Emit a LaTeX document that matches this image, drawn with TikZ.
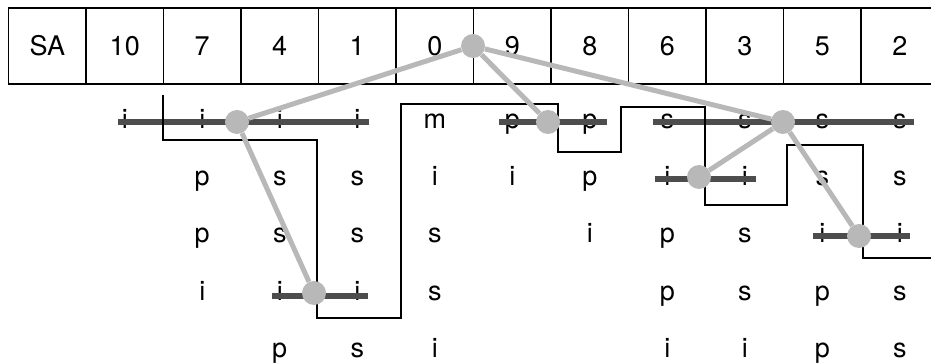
\documentclass[tikz,border=0pt]{standalone}
\usepackage{fontspec}
\setmainfont{TeX Gyre Heros}
\usepackage{tikz}
\usetikzlibrary{positioning}
\pgfdeclarelayer{fg}
\pgfsetlayers{main,fg}
\usepackage{xcolor}
\definecolor{treegray}{HTML}{B8B8B8}
\definecolor{cutgray}{HTML}{4D4D4D}

\begin{document}
\begin{tikzpicture}[
  x=1pt, y=-1pt,
  node distance=43pt,
  font=\fontsize{27}{32}\selectfont,
  cell/.style={draw, line width=1.3pt, minimum width=77.5pt, minimum height=76pt, inner sep=0pt, outer sep=0pt},
  ch/.style={inner sep=0pt, outer sep=0pt, text height=14pt, text depth=0pt},
  cut/.style={line width=6pt, cutgray},
  lcp/.style={line width=2pt, black},
  branch/.style={circle, fill=treegray, inner sep=0pt, minimum size=24pt},
  link/.style={line width=5pt, treegray}
]
\useasboundingbox (0,0) rectangle (931,363);
\clip (0,0) rectangle (931,363);

% suffix array row
\node[cell] at (47.25,46) (sa) {SA};
\node[cell, right=0pt of sa] (n10) {10};
\node[cell, right=0pt of n10] (n7) {7};
\node[cell, right=0pt of n7] (n4) {4};
\node[cell, right=0pt of n4] (n1) {1};
\node[cell, right=0pt of n1] (n0) {0};
\node[cell, right=0pt of n0] (n9) {9};
\node[cell, right=0pt of n9] (n8) {8};
\node[cell, right=0pt of n8] (n6) {6};
\node[cell, right=0pt of n6] (n3) {3};
\node[cell, right=0pt of n3] (n5) {5};
\node[cell, right=0pt of n5] (n2) {2};

% suffixes, one column per entry
\node[ch, below=31pt of n10] (s10-1) {i};

\node[ch, below=31pt of n7] (s7-1) {i};
\node[ch, below=of s7-1] (s7-2) {p};
\node[ch, below=of s7-2] (s7-3) {p};
\node[ch, below=of s7-3] (s7-4) {i};

\node[ch, below=31pt of n4] (s4-1) {i};
\node[ch, below=of s4-1] (s4-2) {s};
\node[ch, below=of s4-2] (s4-3) {s};
\node[ch, below=of s4-3] (s4-4) {i};
\node[ch, below=of s4-4] (s4-5) {p};

\node[ch, below=31pt of n1] (s1-1) {i};
\node[ch, below=of s1-1] (s1-2) {s};
\node[ch, below=of s1-2] (s1-3) {s};
\node[ch, below=of s1-3] (s1-4) {i};
\node[ch, below=of s1-4] (s1-5) {s};

\node[ch, below=31pt of n0] (s0-1) {m};
\node[ch, below=of s0-1] (s0-2) {i};
\node[ch, below=of s0-2] (s0-3) {s};
\node[ch, below=of s0-3] (s0-4) {s};
\node[ch, below=of s0-4] (s0-5) {i};

\node[ch, below=31pt of n9] (s9-1) {p};
\node[ch, below=of s9-1] (s9-2) {i};

\node[ch, below=31pt of n8] (s8-1) {p};
\node[ch, below=of s8-1] (s8-2) {p};
\node[ch, below=of s8-2] (s8-3) {i};

\node[ch, below=31pt of n6] (s6-1) {s};
\node[ch, below=of s6-1] (s6-2) {i};
\node[ch, below=of s6-2] (s6-3) {p};
\node[ch, below=of s6-3] (s6-4) {p};
\node[ch, below=of s6-4] (s6-5) {i};

\node[ch, below=31pt of n3] (s3-1) {s};
\node[ch, below=of s3-1] (s3-2) {i};
\node[ch, below=of s3-2] (s3-3) {s};
\node[ch, below=of s3-3] (s3-4) {s};
\node[ch, below=of s3-4] (s3-5) {i};

\node[ch, below=31pt of n5] (s5-1) {s};
\node[ch, below=of s5-1] (s5-2) {s};
\node[ch, below=of s5-2] (s5-3) {i};
\node[ch, below=of s5-3] (s5-4) {p};
\node[ch, below=of s5-4] (s5-5) {p};

\node[ch, below=31pt of n2] (s2-1) {s};
\node[ch, below=of s2-1] (s2-2) {s};
\node[ch, below=of s2-2] (s2-3) {i};
\node[ch, below=of s2-3] (s2-4) {s};
\node[ch, below=of s2-4] (s2-5) {s};

% shared characters crossed out
\draw[cut] ([xshift=-7pt]s10-1.center) -- ([xshift=12pt]s1-1.center);
\draw[cut] ([xshift=-13pt]s9-1.center) -- ([xshift=17pt]s8-1.center);
\draw[cut] ([xshift=-14pt]s6-1.center) -- ([xshift=14pt]s2-1.center);
\draw[cut] ([xshift=-12pt]s6-2.center) -- ([xshift=11pt]s3-2.center);
\draw[cut] ([xshift=-9pt]s5-3.center) -- ([xshift=10pt]s2-3.center);
\draw[cut] ([shift={(-8pt,-3pt)}]s4-4.center) -- ([shift={(11pt,-3pt)}]s1-4.center);

% lcp boundary
\draw[lcp] (163,95) |- (317,140) -- (317,318) -| (401,104) -| (558,152)
  -| (621,107) -| (705,205) -| (787,145) -| (863,258) -- (940,258);

% branching nodes
\begin{pgfonlayer}{fg}
\node[branch] at (473,46) (root) {};
\node[branch] at (237,122) (vi) {};
\node[branch] at (548,122) (vp) {};
\node[branch] at (783,122) (vs) {};
\node[branch] at (314,293) (vissi) {};
\node[branch] at (699,177) (vsi) {};
\node[branch] at (859,236) (vssi) {};
\end{pgfonlayer}

\draw[link] (root) -- (vi);
\draw[link] (root) -- (vp);
\draw[link] (root) -- (vs);
\draw[link] (vi) -- (vissi);
\draw[link] (vs) -- (vsi);
\draw[link] (vs) -- (vssi);
\end{tikzpicture}
\end{document}
